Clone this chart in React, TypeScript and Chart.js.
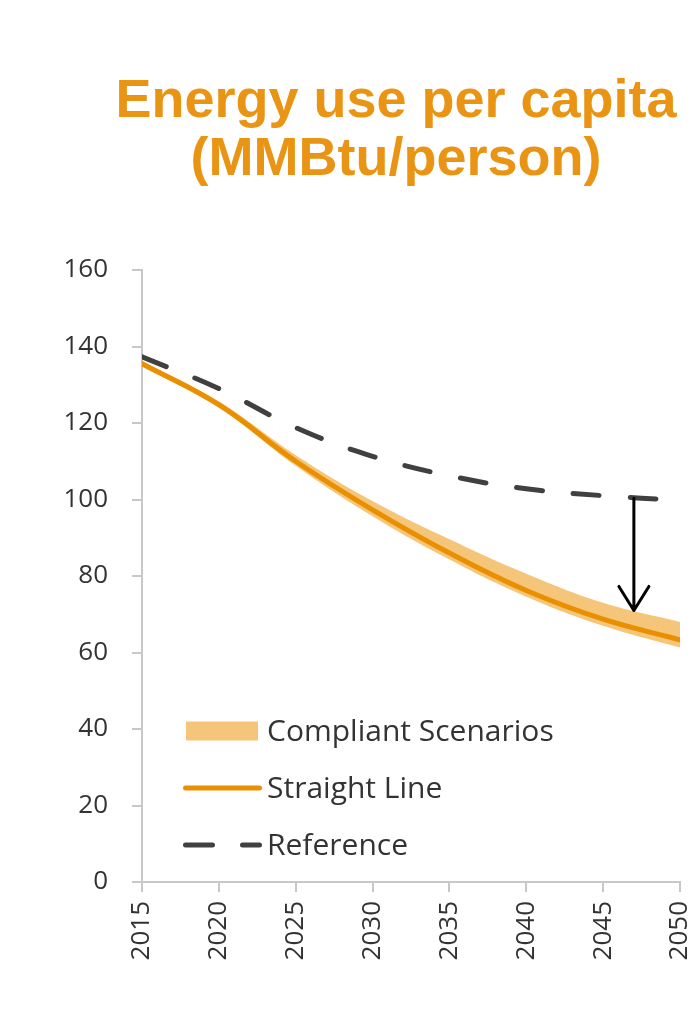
import React, { useEffect, useRef } from "react";
import { Chart, registerables } from "chart.js";

Chart.register(...registerables);

// ---- data ----
const years = [2015, 2020, 2025, 2030, 2035, 2040, 2045, 2050];
const referenceValues = [137.3, 129, 118.8, 111.3, 106.2, 102.8, 101, 99.8];
const straightLineValues = [135.5, 124.8, 110, 97.3, 86, 76.2, 68.7, 63.3];
const compliantUpper = [136.3, 125.6, 111.6, 99.6, 89.6, 80.6, 73, 68];
const compliantLower = [134.8, 124, 108.8, 95.6, 84.3, 74.6, 67, 61.3];
const yTickValues = [0, 20, 40, 60, 80, 100, 120, 140, 160];
const xTickValues = [2015, 2020, 2025, 2030, 2035, 2040, 2045, 2050];
const arrowYear = [2047];
const arrowRange = [100.3, 71];
const titleLines = ["Energy use per capita", "(MMBtu/person)"];
const seriesLabels = ["Compliant Scenarios", "Straight Line", "Reference"];

// ---- styles ----
const BAND = "#F5C57A";
const ORANGE = "#E98F00";
const REF = "#404040";
const TITLE = "#EA9414";
const AXIS = "#C8C8C8";
const TEXT = "#333333";
const FONT = "'Open Sans'";

const pts = (vals: number[]) => years.map((y, i) => ({ x: y, y: vals[i] }));

const arrowPlugin = {
  id: "arrow",
  afterDatasetsDraw(chart: any) {
    const { ctx, scales } = chart;
    const x = scales.x.getPixelForValue(arrowYear[0]);
    const y1 = scales.y.getPixelForValue(arrowRange[0]);
    const y2 = scales.y.getPixelForValue(arrowRange[1]);
    ctx.save();
    ctx.strokeStyle = "#000";
    ctx.lineWidth = 3;
    ctx.lineCap = "round";
    ctx.lineJoin = "round";
    ctx.beginPath();
    ctx.moveTo(x, y1);
    ctx.lineTo(x, y2);
    ctx.moveTo(x - 15, y2 - 24);
    ctx.lineTo(x, y2);
    ctx.lineTo(x + 15, y2 - 24);
    ctx.stroke();
    ctx.restore();
  },
};

const legendPlugin = {
  id: "insideLegend",
  afterDatasetsDraw(chart: any) {
    const { ctx, chartArea } = chart;
    const x0 = chartArea.left + 41;
    const rows = [chartArea.bottom - 151, chartArea.bottom - 94, chartArea.bottom - 37];
    ctx.save();
    ctx.fillStyle = BAND;
    ctx.fillRect(x0 + 3, rows[0] - 9.5, 72, 19);
    ctx.strokeStyle = ORANGE;
    ctx.lineWidth = 5;
    ctx.lineCap = "round";
    ctx.beginPath();
    ctx.moveTo(x0 + 2.5, rows[1]);
    ctx.lineTo(x0 + 76.5, rows[1]);
    ctx.stroke();
    ctx.strokeStyle = REF;
    ctx.setLineDash([27, 30]);
    ctx.beginPath();
    ctx.moveTo(x0 + 2.5, rows[2]);
    ctx.lineTo(x0 + 76.5, rows[2]);
    ctx.stroke();
    ctx.setLineDash([]);
    ctx.fillStyle = TEXT;
    ctx.font = `30px ${FONT}`;
    ctx.textBaseline = "middle";
    ctx.textAlign = "left";
    seriesLabels.forEach((t, i) => ctx.fillText(t, x0 + 84, rows[i] + 1));
    ctx.restore();
  },
};

export default function App() {
  const ref = useRef<HTMLCanvasElement>(null);
  useEffect(() => {
    if (!ref.current) return;
    const tickFont = { family: FONT, size: 26 };
    const common = { pointRadius: 0, tension: 0.4, cubicInterpolationMode: "default" };
    const chart = new Chart(ref.current, {
      type: "line",
      data: {
        datasets: [
          {
            ...common,
            label: seriesLabels[0] + " upper",
            data: pts(compliantUpper),
            borderWidth: 0,
            borderColor: BAND,
            backgroundColor: BAND,
            fill: "+1",
            order: 5,
          },
          {
            ...common,
            label: seriesLabels[0] + " lower",
            data: pts(compliantLower),
            borderWidth: 0,
            borderColor: BAND,
            backgroundColor: BAND,
            fill: false,
            order: 4,
          },
          {
            ...common,
            label: seriesLabels[1],
            data: pts(straightLineValues),
            borderWidth: 5,
            borderColor: ORANGE,
            backgroundColor: ORANGE,
            fill: false,
            borderCapStyle: "round",
            order: 2,
          },
          {
            ...common,
            label: seriesLabels[2],
            data: pts(referenceValues),
            borderWidth: 5,
            borderColor: REF,
            backgroundColor: REF,
            borderDash: [26, 31],
            borderCapStyle: "round",
            fill: false,
            order: 1,
          },
        ],
      },
      options: {
        responsive: false,
        animation: false,
        devicePixelRatio: 1,
        layout: { padding: { top: 270, left: 42, right: 20, bottom: 0 } },
        plugins: {
          legend: { display: false },
          title: { display: false },
          tooltip: { enabled: false },
        },
        scales: {
          x: {
            type: "linear",
            min: years[0],
            max: years[years.length - 1],
            afterBuildTicks: (s: any) => {
              s.ticks = xTickValues.map((v) => ({ value: v }));
            },
            afterFit: (s: any) => {
              s.height = 130;
              s.paddingLeft = 0;
              s.paddingRight = 0;
            },
            ticks: {
              callback: (v: any) => String(v),
              minRotation: 90,
              maxRotation: 90,
              padding: 9,
              font: tickFont,
              color: TEXT,
            },
            grid: {
              display: true,
              drawOnChartArea: false,
              drawTicks: true,
              tickLength: 10,
              color: AXIS,
              lineWidth: 2,
            },
            border: { display: true, color: AXIS, width: 2 },
          },
          y: {
            min: 0,
            max: 160,
            afterBuildTicks: (s: any) => {
              s.ticks = yTickValues.map((v) => ({ value: v }));
            },
            afterFit: (s: any) => {
              s.width = 100;
              s.paddingTop = 0;
              s.paddingBottom = 0;
            },
            ticks: {
              padding: 24,
              font: tickFont,
              color: TEXT,
            },
            grid: {
              display: true,
              drawOnChartArea: false,
              drawTicks: true,
              tickLength: 10,
              color: AXIS,
              lineWidth: 2,
            },
            border: { display: true, color: AXIS, width: 2 },
          },
        },
      },
      plugins: [arrowPlugin, legendPlugin],
    } as any);
    return () => chart.destroy();
  }, []);

  return (
    <div style={{ position: "absolute", left: 0, top: 0, width: 700, height: 1012, background: "#fff" }}>
      <canvas ref={ref} width={700} height={1012} style={{ position: "absolute", left: 0, top: 0 }} />
      <div
        style={{
          position: "absolute",
          left: 92,
          top: 69,
          width: 608,
          textAlign: "center",
          fontFamily: "'Liberation Sans', Arial, sans-serif",
          fontWeight: "bold",
          fontSize: 54,
          lineHeight: "58px",
          color: TITLE,
          whiteSpace: "nowrap",
        }}
      >
        {titleLines.map((t, i) => (
          <div key={i}>{t}</div>
        ))}
      </div>
    </div>
  );
}
